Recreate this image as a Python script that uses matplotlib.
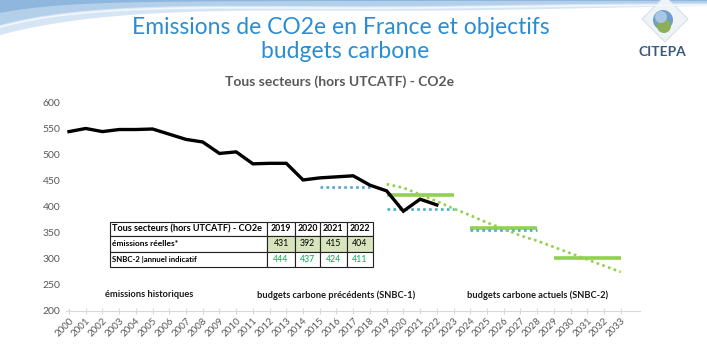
import numpy as np
import matplotlib
matplotlib.use("Agg")
import matplotlib.pyplot as plt
from matplotlib.patches import Rectangle, Polygon, Circle

plt.rcParams['font.family'] = ['Lato', 'DejaVu Sans']

# historical emissions (Mt CO2e)
years_hist = list(range(2000, 2023))
emis_hist = [545, 551, 545, 549, 549, 550, 540, 530, 525, 503, 506, 483,
             484, 484, 452, 456, 458, 460, 442, 431, 392, 415, 404]

# SNBC-2 indicative annual trajectory
years_snbc2 = list(range(2019, 2034))
snbc2_annual = [444, 437, 424, 411, 397, 384, 370, 358, 345, 335, 323, 311,
                299, 287, 275]

# carbon budgets (per-period averages)
snbc1_start = [2015, 2019, 2024]
snbc1_end = [2018, 2023, 2028]
snbc1_vals = [438, 396, 356]
snbc2_start = [2019, 2024, 2029]
snbc2_end = [2023, 2028, 2033]
snbc2_vals = [423, 359, 301]

# table
tab_title = "Tous secteurs (hors UTCATF) - CO2e"
tab_years = [2019, 2020, 2021, 2022]
tab_reel = [431, 392, 415, 404]
tab_snbc = [444, 437, 424, 411]

W, H = 707, 346
fig = plt.figure(figsize=(W / 100, H / 100), dpi=100)

# background overlay in pixel coordinates
bg = fig.add_axes([0, 0, 1, 1])
bg.set_xlim(0, W)
bg.set_ylim(H, 0)
bg.axis('off')

# light blue swoosh at the top
xs = np.linspace(0, 707, 200)
top = np.zeros_like(xs)
low = 30 * np.exp(-xs / 110) + 5 + 5 * np.exp(-((xs - 430) / 220) ** 2)
bg.fill_between(xs, top, low, color='#d6e5f3', lw=0)
low2 = 22 * np.exp(-xs / 80) + 3 + 3 * np.exp(-((xs - 380) / 180) ** 2)
bg.fill_between(xs, top, low2, color='#b3cfe9', lw=0)
low3 = 12 * np.exp(-xs / 60) + 1
bg.fill_between(xs, top, low3, color='#8fb6dc', lw=0)
bg.plot(xs, low2 + 2, color='#f2f7fc', lw=1.2)

# logo
bg.add_patch(Polygon([[665, -4], [688, 19], [665, 42], [642, 19]],
                     closed=True, fc='#eef3f8', ec='#d5e0ea', lw=0.8))
bg.add_patch(Circle((663, 20), 10, fc='#6f9fc9', ec='none'))
bg.add_patch(Circle((664, 26), 7, fc='#8cb05a', ec='none'))
bg.add_patch(Circle((661, 17), 6, fc='#a9c7e3', ec='none'))
bg.text(662, 52, "CITEPA", color='#3c5a7e', fontsize=10, ha='center',
        va='center', fontweight='bold')

# titles
bg.text(341, 27, "Emissions de CO2e en France et objectifs", color='#2a8dd4',
        fontsize=16.5, ha='center', va='center')
bg.text(345, 51, "budgets carbone", color='#2a8dd4', fontsize=16.5,
        ha='center', va='center')
bg.text(340, 82, "Tous secteurs (hors UTCATF) - CO2e", color='#595959',
        fontsize=10, ha='center', va='center', fontweight='bold')

# chart axes, mapped so that 2000 -> 69 px, 2033 -> 621 px, 200 -> 311 px, 600 -> 103 px
px_year = (620.7 - 69) / 33
left_px, right_px, top_px, bot_px = 66, 640, 95, 311
x0 = 2000 + (left_px - 69) / px_year
x1 = 2000 + (right_px - 69) / px_year
y1 = 600 + (103 - top_px) / 26 * 50
ax = fig.add_axes([left_px / W, (H - bot_px) / H, (right_px - left_px) / W,
                   (bot_px - top_px) / H])
ax.set_xlim(x0, x1)
ax.set_ylim(200, y1)
ax.patch.set_alpha(0)
for s in ['top', 'right', 'left']:
    ax.spines[s].set_visible(False)
ax.spines['bottom'].set_color('#d9d9d9')
ax.set_yticks(range(200, 601, 50))
ax.set_xticks(range(2000, 2034))
ax.tick_params(axis='y', length=0, labelsize=7.5, labelcolor='#595959', pad=4)
ax.tick_params(axis='x', direction='inout', length=5, color='#d9d9d9',
               labelsize=7, labelcolor='#595959', pad=1)
for lab in ax.get_xticklabels():
    lab.set_rotation(45)
    lab.set_ha('right')
    lab.set_rotation_mode('anchor')

ax.hlines(snbc2_vals, snbc2_start, snbc2_end, color='#92d050', lw=2.6)
ax.hlines(snbc1_vals, snbc1_start, snbc1_end, color='#4bacc6', lw=1.9,
          linestyles=[(0, (1, 1.25))])
ax.plot(years_snbc2, snbc2_annual, color='#92d050', lw=1.9,
        linestyle=(0, (1, 1.3)))
ax.plot(years_hist, emis_hist, color='black', lw=2.4, solid_joinstyle='miter')

for xc, txt in [(2004.8, "émissions historiques"),
                (2016.0, "budgets carbone précédents (SNBC-1)"),
                (2028.0, "budgets carbone actuels (SNBC-2)")]:
    ax.text(xc, 231, txt, fontsize=6.7, ha='center', va='center',
            fontweight='bold', color='#1a1a1a')

# table in pixel coordinates
col_x = [110, 267, 295, 320, 346.5, 372.5]
row_y = [221.5, 236, 252, 267]
rows = [[tab_title] + [str(y) for y in tab_years],
        ["émissions réelles*"] + [str(v) for v in tab_reel],
        ["SNBC-2 |annuel indicatif"] + [str(v) for v in tab_snbc]]
for r in range(3):
    for c in range(5):
        xa, xb = col_x[c], col_x[c + 1]
        ya, yb = row_y[r], row_y[r + 1]
        fc = '#d7e4bd' if (r == 1 and c > 0) else 'white'
        bg.add_patch(Rectangle((xa, ya), xb - xa, yb - ya, fc=fc,
                               ec='#222222', lw=0.8, zorder=3))
        txt = rows[r][c]
        if c == 0:
            fs = [6.6, 6.0, 5.6][r]
            bg.text(xa + 2, (ya + yb) / 2, txt, fontsize=fs, ha='left',
                    va='center', fontweight='bold', zorder=4)
        else:
            col = '#00b050' if r == 2 else 'black'
            fw = 'bold' if r == 0 else 'normal'
            bg.text((xa + xb) / 2, (ya + yb) / 2, txt, fontsize=6.3,
                    ha='center', va='center', color=col, fontweight=fw,
                    zorder=4)

fig.savefig("out.png", dpi=100)
